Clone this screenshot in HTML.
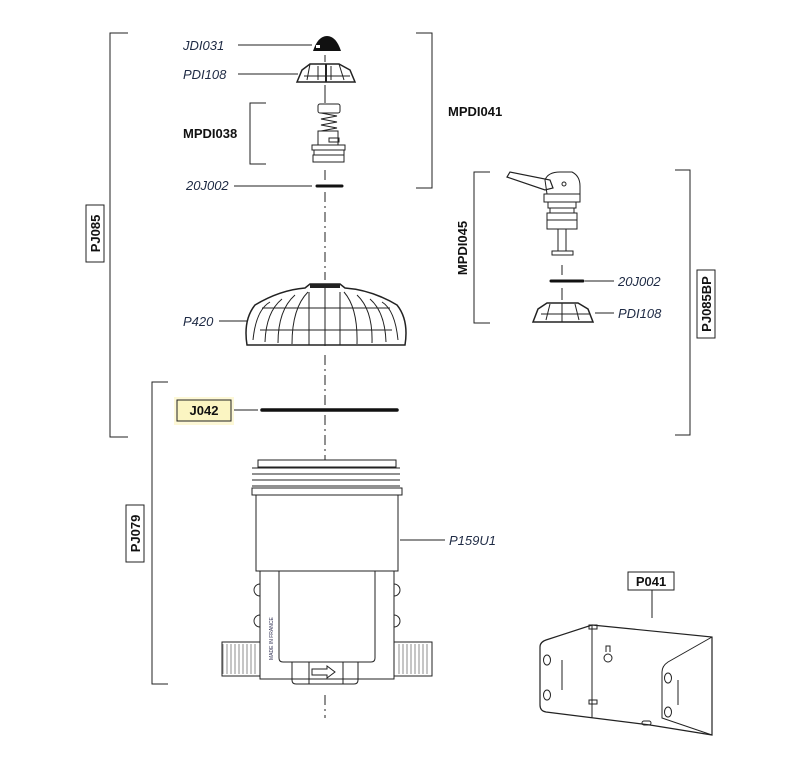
<!DOCTYPE html>
<html><head><meta charset="utf-8"><style>
html,body{margin:0;padding:0;background:#fff}
svg{display:block}
.l{font-family:"Liberation Sans",sans-serif;font-style:italic;font-size:13px;fill:#1e2a44}
.b{font-family:"Liberation Sans",sans-serif;font-weight:bold;font-size:13px;fill:#111}
</style></head><body>
<svg width="797" height="768" viewBox="0 0 797 768" xmlns="http://www.w3.org/2000/svg">
<g fill="none" stroke="#222" stroke-width="1">
<!-- axis -->
<path d="M325 95V103M325 170V180M325 192V280M325 355V460M325 695V718" stroke-dasharray="10 4 2 4"/>
<path d="M325 55V62M325 85V95"/>
<path d="M562 265V275M562 288V300" />
<!-- brackets -->
<path d="M128 33H110V437H128"/>
<path d="M416 33H432V188H416"/>
<path d="M266 103H250V164H266"/>
<path d="M490 172H474V323H490"/>
<path d="M675 170H690V435H675"/>
<path d="M168 382H152V684H168"/>
<!-- leaders -->
<path d="M238 45H312M238 74H298M234 186H312M219 321H248M232 410H258M400 540H445M585 281H614M595 313H614M652 590V618"/>
</g>
<!-- label boxes -->
<rect x="86" y="205" width="18" height="57" fill="#fff" stroke="#222"/>
<text class="b" transform="translate(100,233.5) rotate(-90)" text-anchor="middle">PJ085</text>
<rect x="126" y="505" width="18" height="57" fill="#fff" stroke="#222"/>
<text class="b" transform="translate(140,533.5) rotate(-90)" text-anchor="middle">PJ079</text>
<rect x="697" y="270" width="18" height="68" fill="#fff" stroke="#222"/>
<text class="b" transform="translate(711,304) rotate(-90)" text-anchor="middle">PJ085BP</text>
<text class="b" transform="translate(467,248) rotate(-90)" text-anchor="middle">MPDI045</text>
<rect x="174" y="397" width="60" height="28" fill="#fdf8d6"/>
<rect x="177" y="400" width="54" height="21" fill="#fbf5c2" stroke="#222"/>
<text class="b" x="204" y="415" text-anchor="middle">J042</text>
<rect x="628" y="572" width="46" height="18" fill="#fff" stroke="#222"/>
<text class="b" x="651" y="586" text-anchor="middle">P041</text>
<text class="b" x="448" y="116">MPDI041</text>
<text class="b" x="183" y="138">MPDI038</text>
<!-- italic labels -->
<text class="l" x="183" y="50">JDI031</text>
<text class="l" x="183" y="79">PDI108</text>
<text class="l" x="186" y="190">20J002</text>
<text class="l" x="183" y="326">P420</text>
<text class="l" x="449" y="545">P159U1</text>
<text class="l" x="618" y="286">20J002</text>
<text class="l" x="618" y="318">PDI108</text>
<!-- JDI031 cap -->
<path d="M313 51Q318 36 327 36Q336 36 341 51Z" fill="#111"/>
<rect x="316" y="45" width="4" height="3" fill="#fff"/>
<!-- PDI108 -->
<g fill="none" stroke="#222">
<path d="M297 82L302 70L310 64H339L350 70L355 82Z" stroke-width="1.5"/>
<path d="M304 76H350M310 64L307 80M339 64L344 80M318 66V80M331 66V80"/>
<path d="M326 64V82" stroke-width="2"/>
<!-- MPDI038 -->
<rect x="318" y="104" width="22" height="9" rx="2"/>
<path d="M321 113L337 116L321 119L337 122L321 125L337 128L321 131"/>
<rect x="318" y="131" width="20" height="14"/>
<rect x="329" y="138" width="10" height="4"/>
<rect x="312" y="145" width="33" height="5"/>
<rect x="314" y="150" width="30" height="5"/>
<rect x="313" y="155" width="31" height="7"/>
<!-- P420 dome -->
<path d="M247 345Q243 320 255 305Q280 290 305 288L310 284H340L345 288Q372 290 397 305Q409 320 405 345Z" stroke-width="1.5"/>
<path d="M262 308H390M260 330H392M325 287V346"/>
<path d="M253 340Q256 310 270 302M265 342Q266 312 282 299M278 343Q278 310 295 295M292 344Q292 308 308 292M309 345V292M340 345V292M357 344Q358 308 344 292M372 343Q373 310 357 295M386 342Q385 312 370 299M398 340Q395 310 382 302"/>
</g>
<rect x="310" y="284" width="30" height="4" fill="#222"/>
<!-- rings -->
<line x1="262" y1="410" x2="397" y2="410" stroke="#111" stroke-width="3.5" stroke-linecap="round"/>
<line x1="317" y1="186" x2="342" y2="186" stroke="#111" stroke-width="3" stroke-linecap="round"/>
<line x1="551" y1="281" x2="583" y2="281" stroke="#111" stroke-width="3" stroke-linecap="round"/>
<!-- P159U1 body -->
<g fill="none" stroke="#222">
<rect x="258" y="460" width="138" height="7"/>
<path d="M252 468H400M252 474H400M252 480H400M252 486H400"/>
<rect x="252" y="488" width="150" height="7"/>
<rect x="256" y="495" width="142" height="76"/>
<rect x="260" y="571" width="134" height="108"/>
<path d="M279 571V658Q279 662 283 662H371Q375 662 375 658V571"/>
<path d="M260 584A6 6 0 0 0 260 596M260 615A6 6 0 0 0 260 627M394 584A6 6 0 0 1 394 596M394 615A6 6 0 0 1 394 627"/>
<rect x="222" y="642" width="38" height="34"/>
<rect x="394" y="642" width="38" height="34"/>
<path d="M292 662V680Q292 684 296 684H354Q358 684 358 680V662M309 662V684M343 662V684"/>
<path d="M312 669H327V666L335 672L327 678V675H312Z"/>
<!-- P041 bracket -->
<path d="M540 647Q540 642 546 640L592 625L712 637V735L650 725L546 712Q540 711 540 705Z" stroke-width="1.2"/>
<path d="M592 625V718M712 637L668 662Q662 666 662 672V718L712 735"/>
<path d="M562 660V690M678 680V705"/>
<ellipse cx="547" cy="660" rx="3.5" ry="5"/><ellipse cx="547" cy="695" rx="3.5" ry="5"/>
<ellipse cx="668" cy="678" rx="3.5" ry="5"/><ellipse cx="668" cy="712" rx="3.5" ry="5"/>
<circle cx="608" cy="658" r="4"/><path d="M606 652V646H610V652"/>
<rect x="589" y="625" width="8" height="4"/><rect x="589" y="700" width="8" height="4"/><rect x="642" y="721" width="9" height="4" rx="2"/>
</g>
<text transform="translate(273,660) rotate(-90)" font-family="Liberation Sans,sans-serif" font-size="5" fill="#335">MADE IN FRANCE</text>
<g fill="#fff" stroke="#444" stroke-width="0.6">
<path d="M223 644V674M227 644V674M231 644V674M235 644V674M239 644V674M243 644V674M247 644V674M251 644V674M255 644V674M399 644V674M403 644V674M407 644V674M411 644V674M415 644V674M419 644V674M423 644V674M427 644V674"/>
</g>
<!-- MPDI045 valve -->
<g fill="none" stroke="#222">
<path d="M507 177L545 190L553 188L550 180L510 172Z" stroke-width="1.2"/>
<path d="M545 180Q548 172 560 172H572Q580 176 580 186V194H547Z"/>
<circle cx="564" cy="184" r="2"/>
<rect x="544" y="194" width="36" height="8"/>
<rect x="548" y="202" width="28" height="6"/>
<rect x="550" y="208" width="24" height="5"/>
<rect x="547" y="213" width="30" height="7"/>
<rect x="547" y="220" width="30" height="9"/>
<rect x="558" y="229" width="8" height="22"/>
<rect x="552" y="251" width="21" height="4"/>
<path d="M533 322L538 309L547 303H578L588 309L593 322Z" stroke-width="1.5"/>
<path d="M541 314H590M562 303V322M550 304L546 320M575 304L579 320"/>
</g>
</svg>
</body></html>
